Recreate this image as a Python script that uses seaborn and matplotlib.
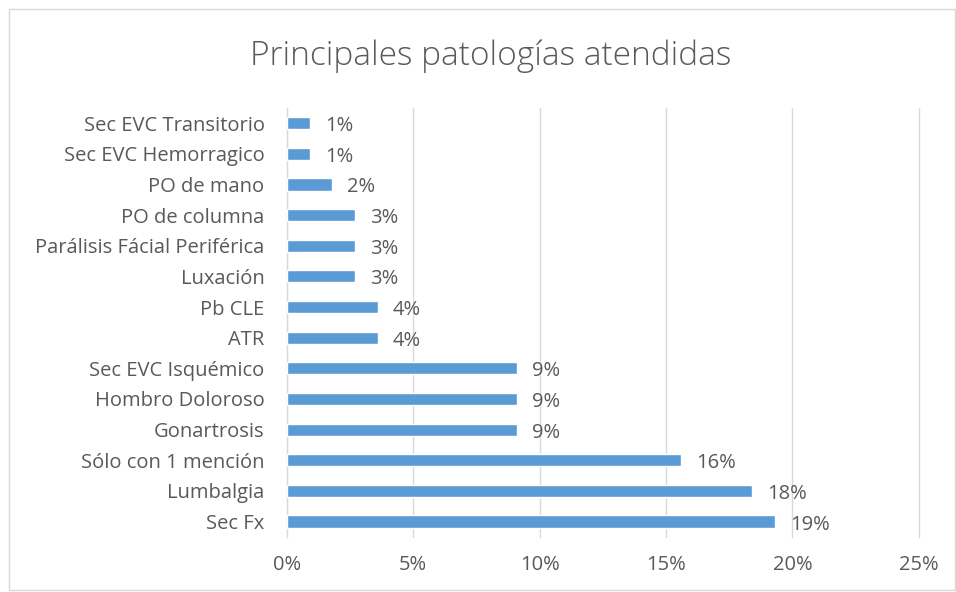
import pandas as pd
import matplotlib.pyplot as plt
import seaborn as sns
from matplotlib.patches import Rectangle
from matplotlib.ticker import PercentFormatter

categorias = ['Sec EVC Transitorio', 'Sec EVC Hemorragico', 'PO de mano', 'PO de columna',
              'Parálisis Fácial Periférica', 'Luxación', 'Pb CLE', 'ATR',
              'Sec EVC Isquémico', 'Hombro Doloroso', 'Gonartrosis',
              'Sólo con 1 mención', 'Lumbalgia', 'Sec Fx']
porcentajes = [0.9, 0.9, 1.8, 2.7, 2.7, 2.7, 3.6, 3.6, 9.1, 9.1, 9.1, 15.6, 18.4, 19.3]
etiquetas = ['1%', '1%', '2%', '3%', '3%', '3%', '4%', '4%', '9%', '9%', '9%', '16%', '18%', '19%']
ticks_x = [0, 5, 10, 15, 20, 25]

df = pd.DataFrame({'Patologia': categorias, 'Porcentaje': porcentajes})

sns.set_style('white')
plt.rcParams['font.family'] = ['Open Sans', 'DejaVu Sans']

gris = '#595959'
fig = plt.figure(figsize=(9.56, 5.92), dpi=100)
ax = fig.add_axes([0.300, 0.093, 0.661, 0.725])

sns.barplot(data=df, x='Porcentaje', y='Patologia', orient='h', color='#5b9bd5',
            width=0.4, saturation=1, ax=ax, zorder=3)

for i, (v, t) in enumerate(zip(porcentajes, etiquetas)):
    ax.text(v + 0.6, i + 0.1, t, ha='left', va='center', fontsize=14.5, color=gris, zorder=4)

ax.set_xlim(0, 25)
ax.set_xticks(ticks_x)
ax.xaxis.set_major_formatter(PercentFormatter(decimals=0))
ax.grid(axis='x', color='#d9d9d9', linewidth=1, zorder=0)
for gl in ax.get_xgridlines():
    gl.set_clip_on(False)
ax.grid(axis='y', visible=False)
for s in ['top', 'right', 'bottom']:
    ax.spines[s].set_visible(False)
ax.spines['left'].set_color('#d9d9d9')
ax.tick_params(axis='y', length=0, pad=16, labelsize=14.5, labelcolor=gris)
ax.tick_params(axis='x', length=0, pad=13, labelsize=14.5, labelcolor=gris)
ax.set_xlabel('')
ax.set_ylabel('')

fig.text(0.513, 0.905, 'Principales patologías atendidas', ha='center', va='center',
         fontsize=24, color=gris, fontweight='light')
fig.patches.append(Rectangle((0.009, 0.003), 0.99, 0.982, transform=fig.transFigure,
                             fill=False, edgecolor='#d9d9d9', linewidth=1))

fig.savefig('out.png', dpi=100)
